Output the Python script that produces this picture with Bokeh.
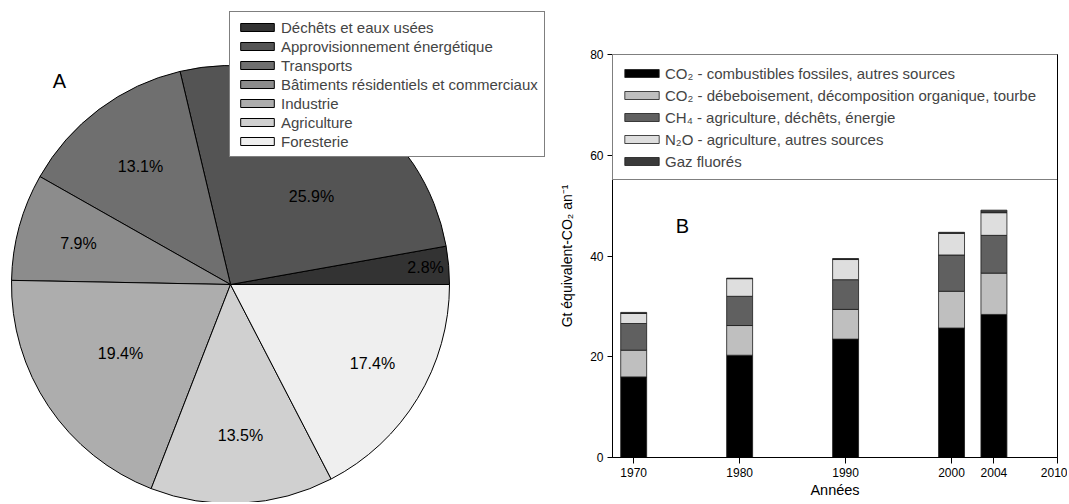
import numpy as np
from bokeh.plotting import figure
from bokeh.models import ColumnDataSource, Range1d, Legend, LegendItem, Label, FixedTicker
from bokeh.layouts import row, column
from bokeh.embed import file_html
from bokeh.resources import INLINE
from bokeh.core.properties import value

FONT = "Liberation Sans"

# ---------------- data: panel A (pie) ----------------
sectors = ["Déchêts et eaux usées", "Approvisionnement énergétique", "Transports",
           "Bâtiments résidentiels et commerciaux", "Industrie", "Agriculture", "Foresterie"]
shares = [2.8, 25.9, 13.1, 7.9, 19.4, 13.5, 17.4]
sector_colors = ["#333333", "#545454", "#6f6f6f", "#8c8c8c", "#adadad", "#d0d0d0", "#efefef"]

# ---------------- data: panel B (stacked bars) ----------------
years = [1970, 1980, 1990, 2000, 2004]
co2_fossil = [16.0, 20.3, 23.5, 25.7, 28.4]
co2_deforest = [5.3, 5.9, 5.9, 7.3, 8.2]
ch4 = [5.3, 5.8, 5.9, 7.2, 7.5]
n2o = [2.0, 3.5, 4.0, 4.3, 4.5]
fgas = [0.2, 0.1, 0.2, 0.2, 0.5]
gas_labels = ["CO\u2082 - combustibles fossiles, autres sources",
              "CO\u2082 - débeboisement, décomposition organique, tourbe",
              "CH\u2084 - agriculture, déchêts, énergie",
              "N\u2082O - agriculture, autres sources",
              "Gaz fluorés"]
gas_colors = ["#000000", "#bfbfbf", "#606060", "#dedede", "#3a3a3a"]
year_ticks = [1970, 1980, 1990, 2000, 2004, 2010]
value_ticks = [0, 20, 40, 60, 80]

H = 502
W1 = 556
W2 = 511

# ================= Panel A =================
p1 = figure(width=W1, height=H, x_range=Range1d(0, W1), y_range=Range1d(0, H),
            output_backend="svg", toolbar_location=None,
            x_axis_type=None, y_axis_type=None, min_border=0,
            outline_line_color=None)
p1.xgrid.visible = False
p1.ygrid.visible = False

cx, cy, R = 230.0, 218.0, 219.0
frac = np.array(shares) / np.sum(shares)
ends = 2 * np.pi * np.cumsum(frac)
starts = ends - 2 * np.pi * frac
src1 = ColumnDataSource(dict(start=starts, end=ends, color=sector_colors, label=sectors))
wr = p1.wedge(x=cx, y=cy, radius=R, start_angle="start", end_angle="end",
              fill_color="color", line_color="black", line_width=1, source=src1)

# percentage labels (radial placement style)
lab_frac = [0.894, 0.546, 0.678, 0.719, 0.593, 0.691, 0.742]
lab_nudge = np.radians([0, -9.3, 0.4, 0.2, -1.7, 0.7, 2.2])
mid = (starts + ends) / 2 + lab_nudge
lx = cx + R * np.array(lab_frac) * np.cos(mid)
ly = cy + R * np.array(lab_frac) * np.sin(mid)
texts = [f"{s:.1f}%" for s in shares]
p1.text(x=lx, y=ly, text=texts, text_align="center", text_baseline="middle",
        text_font=value(FONT), text_font_size="16px", text_color="black")

p1.add_layout(Label(x=59, y=422, text="A", text_font=FONT, text_font_size="20px",
                    text_align="center", text_baseline="middle", text_color="black"))

items1 = [LegendItem(label=sectors[i], renderers=[wr], index=i) for i in range(len(sectors))]
leg1 = Legend(items=items1, location=(229, 345), margin=0, padding=6, spacing=1,
              label_height=18, glyph_width=42, glyph_height=10, label_standoff=3,
              label_text_font=FONT, label_text_font_size="15px",
              border_line_color="black", border_line_width=1,
              background_fill_color="white", background_fill_alpha=1.0)
p1.add_layout(leg1)

# ================= Panel B =================
p2 = figure(width=W2, height=H, x_range=Range1d(1968, 2010), y_range=Range1d(0, 80),
            output_backend="svg", toolbar_location=None,
            min_border_left=56, min_border_right=10, min_border_top=54, min_border_bottom=45,
            outline_line_color="black")
p2.xgrid.visible = False
p2.ygrid.visible = False

src2 = ColumnDataSource(dict(year=years, fossil=co2_fossil, deforest=co2_deforest,
                             ch4=ch4, n2o=n2o, fgas=fgas))
stackers = ["fossil", "deforest", "ch4", "n2o", "fgas"]
rends = p2.vbar_stack(stackers, x="year", width=2.45, fill_color=gas_colors,
                      line_color="#1a1a1a", line_width=0.8, source=src2)

p2.xaxis.ticker = FixedTicker(ticks=year_ticks)
p2.yaxis.ticker = FixedTicker(ticks=value_ticks)
for ax in (p2.xaxis, p2.yaxis):
    ax.minor_tick_line_color = None
    ax.major_tick_in = 0
    ax.major_label_text_font = FONT
    ax.major_label_text_font_size = "12px"
    ax.major_label_text_color = "black"
    ax.axis_label_text_font = FONT
    ax.axis_label_text_font_style = "normal"
    ax.axis_label_text_color = "black"
    ax.axis_line_color = "black"
    ax.major_tick_line_color = "black"
p2.xaxis.major_tick_out = 6
p2.yaxis.major_tick_out = 5
p2.xaxis.major_label_standoff = 4
p2.yaxis.major_label_standoff = 4
p2.xaxis.axis_label = "Années"
p2.xaxis.axis_label_text_font_size = "14.5px"
p2.xaxis.axis_label_standoff = 2
p2.yaxis.axis_label = "Gt équivalent-CO\u2082 an\u207b\u00b9"
p2.yaxis.axis_label_text_font_size = "14px"
p2.yaxis.axis_label_standoff = 12

p2.add_layout(Label(x=1974.6, y=45.9, text="B", text_font=FONT, text_font_size="20px",
                    text_align="center", text_baseline="middle", text_color="black"))

items2 = [LegendItem(label=gas_labels[i], renderers=[rends[i]]) for i in range(len(gas_labels))]
leg2 = Legend(items=items2, location="top_left", margin=0, padding=7, spacing=0,
              label_height=22, glyph_width=43, glyph_height=10, label_standoff=2,
              label_width=386,
              label_text_font=FONT, label_text_font_size="15px",
              border_line_color="black", border_line_width=1,
              background_fill_color="white", background_fill_alpha=1.0)
p2.add_layout(leg2)

layout = row(column(p1), column(p2))
open("out.html", "w").write(file_html(layout, INLINE))
